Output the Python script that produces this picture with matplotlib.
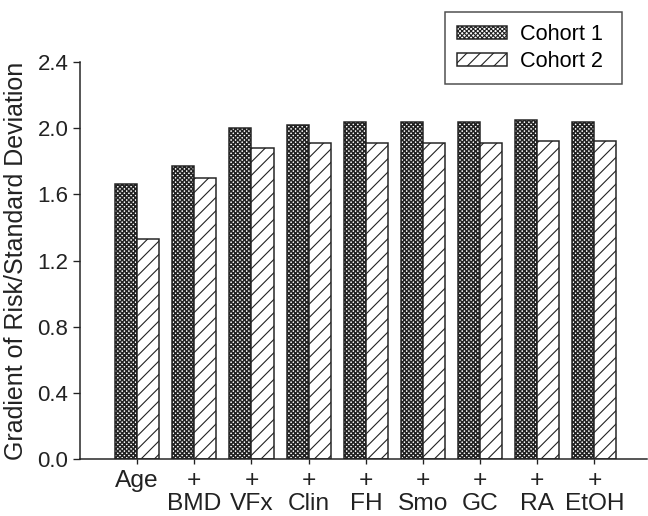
import matplotlib
matplotlib.use("Agg")
import matplotlib.pyplot as plt
import numpy as np

plt.rcParams['font.family'] = ['Liberation Sans', 'DejaVu Sans']

# datos
categorias = ["Age", "+\nBMD", "+\nVFx", "+\nClin", "+\nFH", "+\nSmo", "+\nGC", "+\nRA", "+\nEtOH"]
cohorte1 = [1.66, 1.77, 2.00, 2.02, 2.04, 2.04, 2.04, 2.05, 2.04]
cohorte2 = [1.33, 1.70, 1.88, 1.91, 1.91, 1.91, 1.91, 1.92, 1.92]
yticks = [0.0, 0.4, 0.8, 1.2, 1.6, 2.0, 2.4]

# dpi 80 para que el rayado tenga la densidad del original
fig = plt.figure(figsize=(8.1, 6.45), dpi=80)
ax = fig.add_axes([0.1235, 0.11, 0.875, 0.77])

x = np.arange(len(categorias))
ancho = 0.385
fs = 22
negro = '#222222'

with plt.rc_context({'hatch.linewidth': 1.4}):
    ax.bar(x - ancho/2, cohorte1, ancho, color='white', edgecolor=negro,
           hatch='xxxxxx', linewidth=1.35, label='Cohort 1')
with plt.rc_context({'hatch.linewidth': 1.0}):
    ax.bar(x + ancho/2, cohorte2, ancho, color='white', edgecolor=negro,
           hatch='//', linewidth=1.35, label='Cohort 2')

ax.set_xlim(-1, 8.92)
ax.set_ylim(0, 2.4)
ax.set_yticks(yticks)
ax.set_yticklabels([f"{v:.1f}" for v in yticks], fontsize=20)
ax.set_xticks(x)
ax.set_xticklabels(categorias, fontsize=fs, linespacing=1.05)
ax.tick_params(axis='y', direction='out', length=6, width=1.2, pad=4.5, colors=negro)
ax.tick_params(axis='x', direction='out', length=4.5, width=1.2, pad=5.5, colors=negro)
ax.set_ylabel("Gradient of Risk/Standard Deviation", fontsize=22.5, labelpad=8, color=negro)

for lado in ['top', 'right']:
    ax.spines[lado].set_visible(False)
for lado in ['left', 'bottom']:
    ax.spines[lado].set_linewidth(1.35)
    ax.spines[lado].set_color(negro)

leg = ax.legend(loc='upper left', mode='expand',
                bbox_to_anchor=(445/648, 1 - 86/516, 177/648, 74/516),
                bbox_transform=fig.transFigure,
                borderaxespad=0, fontsize=19.5, fancybox=False, frameon=True,
                handlelength=2.3, handleheight=0.55, handletextpad=0.6,
                borderpad=0.55, labelspacing=0.3)
leg.get_frame().set_edgecolor(negro)
leg.get_frame().set_linewidth(1.35)

fig.savefig("out.png", dpi=80)
